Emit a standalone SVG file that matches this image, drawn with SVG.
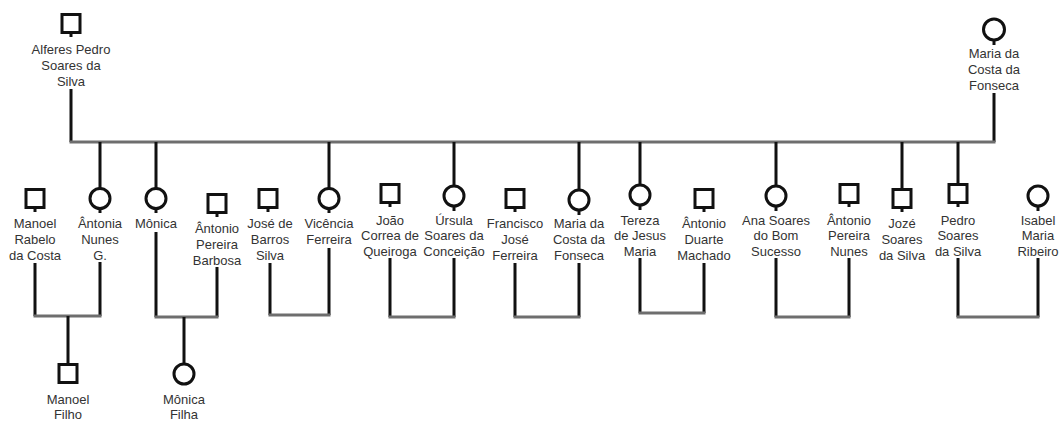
<svg xmlns="http://www.w3.org/2000/svg" width="1059" height="421" viewBox="0 0 1059 421">
<style>
.m{fill:none;stroke:#111;stroke-width:3}
.v{fill:none;stroke:#111;stroke-width:3}
.h{fill:none;stroke:#6e6e6e;stroke-width:3}
text{font-family:"Liberation Sans",Arial,sans-serif;font-size:13px;fill:#333;text-anchor:middle}
</style>
<rect width="1059" height="421" fill="#fff"/>
<g id="connectors">
<path class="v" d="M71 89V142M994 93V142"/>
<path class="h" d="M69.5 142H995.5"/>
<path class="v" d="M100 142V188M156 142V188M329 142V188M454 142V186M579 142V190M640 142V185M776 142V186M902 142V189M958 142V184"/>
<path class="v" d="M35 263V316M100 262V316M156 232V317M217 267V317M270 263V315M329 248V315M390 258V317M454 258V317M515 263V317M579 263V317M640 258V313M704 263V313M776 258V317M849 258V317M958 258V317M1038 258V317"/>
<path class="h" d="M33.5 316H101.5M154.5 317H218.5M268.5 315H330.5M388.5 317H455.5M513.5 317H580.5M638.5 313H705.5M774.5 317H850.5M956.5 317H1039.5"/>
<path class="v" d="M68 316V363M184 317V363"/>
</g>
<g id="alferes"><rect class="m" x="62" y="14.5" width="18" height="18"/><path class="m" d="M71 32V37"/><text x="71" y="53.5">Alferes Pedro</text><text x="71" y="69.5">Soares da</text><text x="71" y="85.5">Silva</text></g>
<g id="maria-top"><circle class="m" cx="994" cy="29.5" r="10.5"/><path class="m" d="M994 40V45"/><text x="994" y="57.5">Maria da</text><text x="994" y="73.5">Costa da</text><text x="994" y="89.5">Fonseca</text></g>
<g id="manoel-rabelo"><rect class="m" x="26" y="189.5" width="18" height="18"/><path class="m" d="M35 207V212"/><text x="35" y="227.5">Manoel</text><text x="35" y="244">Rabelo</text><text x="35" y="260">da Costa</text></g>
<g id="antonia"><circle class="m" cx="100" cy="198.5" r="10"/><path class="m" d="M100 208V213"/><text x="100" y="227.5">Ântonia</text><text x="100" y="244">Nunes</text><text x="100" y="260">G.</text></g>
<g id="monica"><circle class="m" cx="156" cy="198.5" r="10"/><path class="m" d="M156 208V213"/><text x="156" y="227.5">Mônica</text></g>
<g id="antonio-barbosa"><rect class="m" x="208" y="194.5" width="18" height="18"/><path class="m" d="M217 212V217"/><text x="217" y="232.5">Ântonio</text><text x="217" y="248.5">Pereira</text><text x="217" y="264.5">Barbosa</text></g>
<g id="jose-barros"><rect class="m" x="259" y="189.5" width="18" height="18"/><path class="m" d="M268 207V212"/><text x="270" y="227.5">José de</text><text x="270" y="244">Barros</text><text x="270" y="260">Silva</text></g>
<g id="vicencia"><circle class="m" cx="329" cy="198.5" r="10"/><path class="m" d="M329 208V213"/><text x="329" y="227.5">Vicência</text><text x="329" y="244">Ferreira</text></g>
<g id="joao"><rect class="m" x="381" y="184.5" width="18" height="18"/><path class="m" d="M390 202V207"/><text x="390" y="224.5">João</text><text x="390" y="239.5">Correa de</text><text x="390" y="255.5">Queiroga</text></g>
<g id="ursula"><circle class="m" cx="454" cy="196" r="10"/><path class="m" d="M454 206V211"/><text x="454" y="224.5">Úrsula</text><text x="454" y="239.5">Soares da</text><text x="454" y="255.5">Conceição</text></g>
<g id="francisco"><rect class="m" x="506" y="189.5" width="18" height="18"/><path class="m" d="M515 207V212"/><text x="515" y="227.5">Francisco</text><text x="515" y="243.5">José</text><text x="515" y="259.5">Ferreira</text></g>
<g id="maria-costa"><circle class="m" cx="579" cy="200" r="10"/><path class="m" d="M579 210V215"/><text x="579" y="227.5">Maria da</text><text x="579" y="243.5">Costa da</text><text x="579" y="259.5">Fonseca</text></g>
<g id="tereza"><circle class="m" cx="640" cy="195" r="10"/><path class="m" d="M640 205V210"/><text x="640" y="224.5">Tereza</text><text x="640" y="239.5">de Jesus</text><text x="640" y="255.5">Maria</text></g>
<g id="antonio-duarte"><rect class="m" x="695" y="189.5" width="18" height="18"/><path class="m" d="M704 207V212"/><text x="704" y="227.5">Ântonio</text><text x="704" y="243.5">Duarte</text><text x="704" y="259.5">Machado</text></g>
<g id="ana"><circle class="m" cx="776" cy="196" r="10"/><path class="m" d="M776 206V211"/><text x="776" y="224.5">Ana Soares</text><text x="776" y="239.5">do Bom</text><text x="776" y="255.5">Sucesso</text></g>
<g id="antonio-nunes"><rect class="m" x="840" y="184.5" width="18" height="18"/><path class="m" d="M849 202V207"/><text x="849" y="224.5">Ântonio</text><text x="849" y="239.5">Pereira</text><text x="849" y="255.5">Nunes</text></g>
<g id="joze"><rect class="m" x="893" y="189.5" width="18" height="18"/><path class="m" d="M902 207V212"/><text x="902" y="227.5">Jozé</text><text x="902" y="243.5">Soares</text><text x="902" y="259.5">da Silva</text></g>
<g id="pedro"><rect class="m" x="949" y="184.5" width="18" height="18"/><path class="m" d="M958 202V207"/><text x="958" y="224.5">Pedro</text><text x="958" y="239.5">Soares</text><text x="958" y="255.5">da Silva</text></g>
<g id="isabel"><circle class="m" cx="1038" cy="196" r="10"/><path class="m" d="M1038 206V211"/><text x="1038" y="224.5">Isabel</text><text x="1038" y="239.5">Maria</text><text x="1038" y="255.5">Ribeiro</text></g>
<g id="manoel-filho"><rect class="m" x="59" y="364.5" width="18" height="18"/><text x="68" y="403.5">Manoel</text><text x="68" y="419">Filho</text></g>
<g id="monica-filha"><circle class="m" cx="184" cy="374" r="10"/><text x="184" y="403.5">Mônica</text><text x="184" y="419">Filha</text></g>
</svg>
